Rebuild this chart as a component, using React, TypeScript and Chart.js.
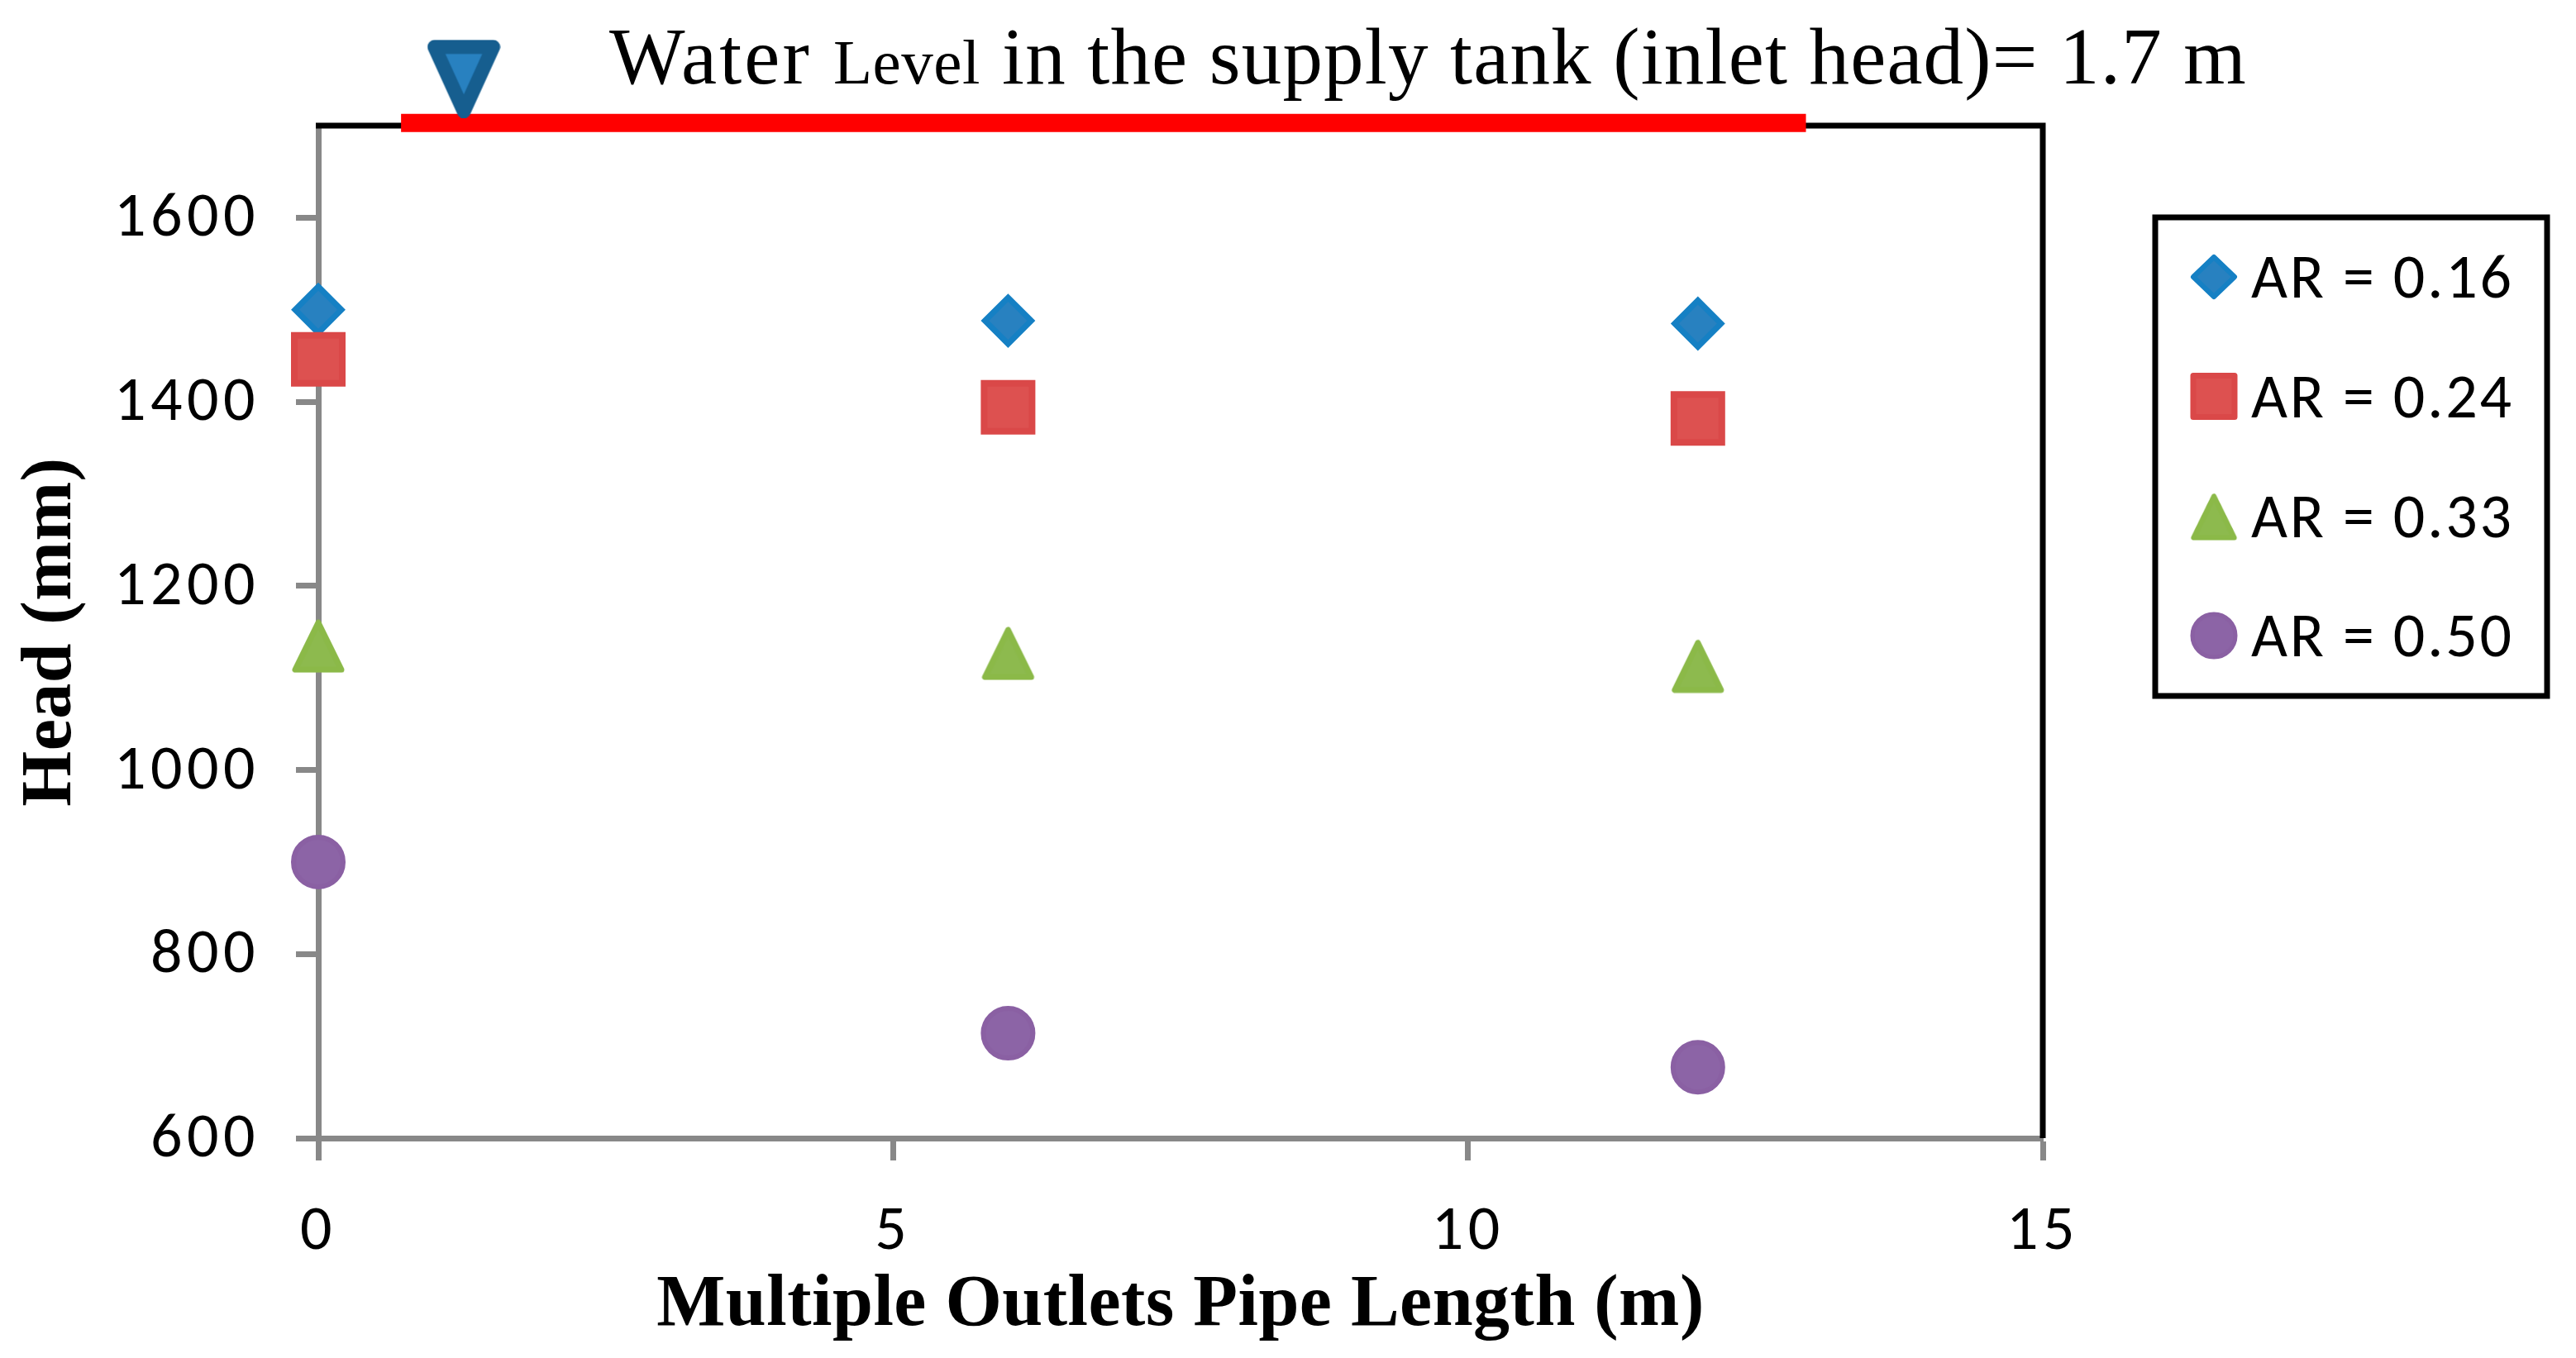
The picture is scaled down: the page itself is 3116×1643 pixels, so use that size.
import React, { useEffect, useRef } from "react";
import { Chart, registerables } from "chart.js";

Chart.register(...registerables);

const pipeLength = [0, 6, 12];
const ar016 = [1500, 1488, 1485];
const ar024 = [1446, 1394, 1382];
const ar033 = [1135, 1127, 1113];
const ar050 = [900, 714, 677];
const seriesLabels = ["AR = 0.16", "AR = 0.24", "AR = 0.33", "AR = 0.50"];
const waterLevelX = [0.72, 12.94];
const waterLevelY = [1703, 1703];
const tankMarkX = [1.266];
const tankMarkY = [1751];

const SANS = "Carlito, Lato, sans-serif";
const SERIF = '"Liberation Serif", serif';

function sprite(w: number, h: number, draw: (c: CanvasRenderingContext2D) => void) {
  const cv = document.createElement("canvas");
  cv.width = w;
  cv.height = h;
  draw(cv.getContext("2d") as CanvasRenderingContext2D);
  return cv;
}

function triangleSprite() {
  return sprite(66, 66, (c) => {
    c.beginPath();
    c.moveTo(33, 5);
    c.lineTo(5, 62);
    c.lineTo(61, 62);
    c.closePath();
    c.fillStyle = "#8dba4e";
    c.strokeStyle = "#8bb948";
    c.lineWidth = 7;
    c.lineJoin = "round";
    c.fill();
    c.stroke();
  });
}

function tankSprite() {
  return sprite(89, 95, (c) => {
    c.beginPath();
    c.moveTo(9, 9);
    c.lineTo(80, 9);
    c.lineTo(44.5, 87);
    c.closePath();
    c.fillStyle = "#2881c0";
    c.strokeStyle = "#165e8f";
    c.lineWidth = 17;
    c.lineJoin = "round";
    c.fill();
    c.stroke();
  });
}

function spacedText(c: CanvasRenderingContext2D, text: string, x: number, y: number, width: number) {
  c.letterSpacing = "0px";
  const natural = c.measureText(text).width;
  c.letterSpacing = `${(width - natural) / text.length}px`;
  c.fillText(text, x, y);
  c.letterSpacing = "0px";
}

const framePlugin = {
  id: "frame",
  beforeDraw(chart: any) {
    chart.ctx.letterSpacing = "0.5px";
  },
  beforeDatasetsDraw(chart: any) {
    const { ctx, chartArea: a } = chart;
    ctx.save();
    ctx.strokeStyle = "#000000";
    ctx.lineWidth = 7;
    ctx.beginPath();
    ctx.moveTo(a.left - 3, a.top);
    ctx.lineTo(a.right, a.top);
    ctx.lineTo(a.right, a.bottom);
    ctx.stroke();
    ctx.restore();
  },
  afterDatasetsDraw(chart: any) {
    chart.ctx.letterSpacing = "5.5px";
  },
};

const annotationPlugin = {
  id: "annotation",
  afterDraw(chart: any) {
    const c = chart.ctx as CanvasRenderingContext2D;
    c.letterSpacing = "0px";
    c.save();
    c.fillStyle = "#000000";
    c.textAlign = "left";
    c.textBaseline = "alphabetic";
    c.font = `97px ${SERIF}`;
    spacedText(c, "Water", 737, 101, 245);
    c.font = `77px ${SERIF}`;
    spacedText(c, "Level", 1008, 101, 178);
    c.font = `97px ${SERIF}`;
    spacedText(c, "in the supply tank (inlet head)= 1.7 m", 1212, 101, 1506);

    c.strokeStyle = "#000000";
    c.lineWidth = 7;
    c.strokeRect(2607, 263, 474, 579);

    const rowY = [335, 479.5, 625, 769];
    c.font = `76px ${SANS}`;
    seriesLabels.forEach((label, i) => {
      spacedText(c, label, 2723, rowY[i] + 25, 318);
    });

    const mx = 2678;
    c.lineJoin = "round";
    // diamond
    c.beginPath();
    c.moveTo(mx, rowY[0] - 24);
    c.lineTo(mx + 25, rowY[0]);
    c.lineTo(mx, rowY[0] + 24);
    c.lineTo(mx - 25, rowY[0]);
    c.closePath();
    c.fillStyle = "#2881c0";
    c.strokeStyle = "#1580c4";
    c.lineWidth = 6;
    c.fill();
    c.stroke();
    // square
    c.fillStyle = "#dd5150";
    c.strokeStyle = "#da4848";
    c.lineWidth = 7;
    c.beginPath();
    c.rect(mx - 25, rowY[1] - 25, 50, 50);
    c.fill();
    c.stroke();
    // triangle
    c.drawImage(triangleSprite(), mx - 29, rowY[2] - 29, 58, 58);
    // circle
    c.fillStyle = "#8c64a6";
    c.strokeStyle = "#8a60a3";
    c.lineWidth = 5;
    c.beginPath();
    c.arc(mx, rowY[3], 26, 0, Math.PI * 2);
    c.fill();
    c.stroke();
    c.restore();
  },
};

const toXY = (xs: number[], ys: number[]) => xs.map((x, i) => ({ x, y: ys[i] }));

export default function App() {
  const ref = useRef<HTMLCanvasElement | null>(null);

  useEffect(() => {
    const chart = new Chart(ref.current as HTMLCanvasElement, {
      type: "scatter",
      data: {
        datasets: [
          {
            label: "Tank mark",
            data: toXY(tankMarkX, tankMarkY),
            pointStyle: tankSprite(),
            pointRadius: 70,
            clip: false,
            order: 0,
          },
          {
            label: "Water level",
            data: toXY(waterLevelX, waterLevelY),
            showLine: true,
            borderColor: "#ff0000",
            borderWidth: 22,
            borderCapStyle: "butt",
            pointRadius: 0,
            clip: false,
            order: 1,
          },
          {
            label: seriesLabels[0],
            data: toXY(pipeLength, ar016),
            pointStyle: "rectRot",
            pointRadius: 28,
            pointBackgroundColor: "#2881c0",
            pointBorderColor: "#1580c4",
            pointBorderWidth: 7,
            clip: false,
            order: 3,
          },
          {
            label: seriesLabels[1],
            data: toXY(pipeLength, ar024),
            pointStyle: "rect",
            pointRadius: 41,
            pointBackgroundColor: "#dd5150",
            pointBorderColor: "#da4848",
            pointBorderWidth: 8,
            clip: false,
            order: 2,
          },
          {
            label: seriesLabels[2],
            data: toXY(pipeLength, ar033),
            pointStyle: triangleSprite(),
            pointRadius: 33,
            clip: false,
            order: 2,
          },
          {
            label: seriesLabels[3],
            data: toXY(pipeLength, ar050),
            pointStyle: "circle",
            pointRadius: 30,
            pointBackgroundColor: "#8c64a6",
            pointBorderColor: "#8a60a3",
            pointBorderWidth: 6,
            clip: false,
            order: 2,
          },
        ],
      } as any,
      options: {
        responsive: false,
        animation: false,
        events: [],
        layout: { padding: { left: 0, right: 645, top: 152, bottom: 0 } },
        plugins: {
          legend: { display: false },
          tooltip: { enabled: false },
          title: { display: false },
        },
        scales: {
          x: {
            type: "linear",
            min: 0,
            max: 15,
            afterFit(axis: any) {
              axis.height = 266;
            },
            border: { color: "#888888", width: 7 },
            grid: {
              drawOnChartArea: false,
              drawTicks: true,
              tickLength: 27,
              tickWidth: 7,
              tickColor: "#888888",
            },
            ticks: {
              z: 1,
              stepSize: 5,
              padding: 42,
              color: "#000000",
              maxRotation: 0,
              autoSkip: false,
              includeBounds: false,
              font: { family: SANS, size: 76 },
              callback: (v: any) => String(v),
            },
            title: {
              display: true,
              text: "Multiple Outlets Pipe Length (m)",
              color: "#000000",
              font: { family: SERIF, size: 88, weight: "bold" },
              padding: { top: 0, bottom: 10 },
            },
          },
          y: {
            type: "linear",
            min: 600,
            max: 1700,
            afterFit(axis: any) {
              axis.width = 385;
            },
            border: { color: "#888888", width: 7 },
            grid: {
              drawOnChartArea: false,
              drawTicks: true,
              tickLength: 27,
              tickWidth: 7,
              tickColor: "#888888",
            },
            ticks: {
              z: 1,
              stepSize: 200,
              padding: 44,
              labelOffset: 3,
              color: "#000000",
              autoSkip: false,
              includeBounds: false,
              font: { family: SANS, size: 76 },
              callback: (v: any) => String(v),
            },
            title: {
              display: true,
              text: "Head (mm)",
              color: "#000000",
              font: { family: SERIF, size: 86, weight: "bold" },
              padding: { top: 11, bottom: 0 },
            },
          },
        },
      } as any,
      plugins: [framePlugin, annotationPlugin],
    } as any);
    return () => chart.destroy();
  }, []);

  return (
    <div style={{ position: "absolute", left: 0, top: 0, width: 3116, height: 1643, background: "#ffffff" }}>
      <canvas ref={ref} width={3116} height={1643} style={{ display: "block" }} />
    </div>
  );
}
